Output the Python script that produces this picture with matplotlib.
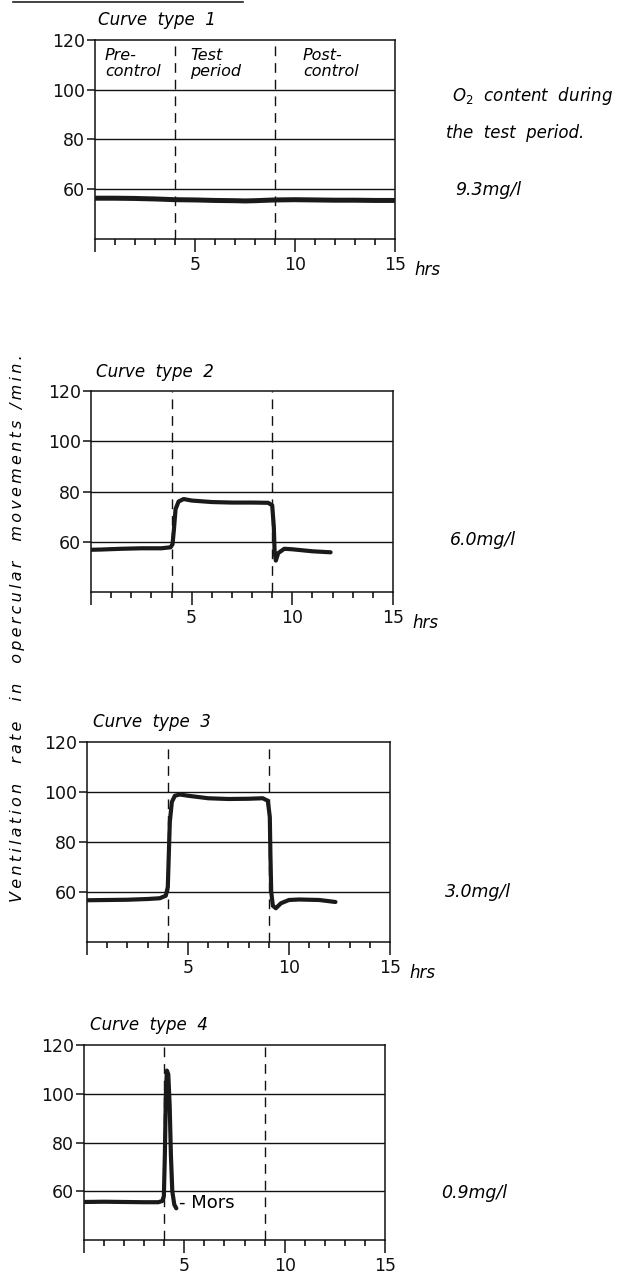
import matplotlib
matplotlib.use("Agg")
import matplotlib.pyplot as plt
from matplotlib.ticker import FixedLocator, MultipleLocator

# ---------------- data ----------------
t1 = [0, 1, 2, 3, 4, 5, 6, 7, 7.5, 8, 9, 10, 11, 12, 13, 14, 15]
v1 = [56.4, 56.4, 56.3, 56.1, 55.8, 55.7, 55.5, 55.4, 55.3, 55.4, 55.7, 55.8, 55.7, 55.6, 55.6, 55.5, 55.5]

t2 = [0, 0.5, 1.5, 2.5, 3.5, 3.95, 4.05, 4.12, 4.2, 4.35, 4.6, 5.0, 6, 7, 8, 8.8,
      9.0, 9.08, 9.12, 9.18, 9.3, 9.6, 10, 11, 11.9]
v2 = [56.8, 56.9, 57.2, 57.4, 57.4, 57.8, 59, 65, 73, 76, 77, 76.4, 75.8, 75.6, 75.6, 75.5,
      74.5, 66, 56, 52.5, 55.5, 57.2, 57, 56.2, 55.8]

t3 = [0, 1, 2, 3, 3.6, 3.9, 4.0, 4.05, 4.1, 4.2, 4.35, 4.6, 5.0, 6, 7, 8, 8.7,
      8.95, 9.05, 9.08, 9.12, 9.2, 9.35, 9.6, 10, 10.5, 11.5, 12.3]
v3 = [56.7, 56.8, 56.9, 57.2, 57.5, 58.5, 62, 75, 88, 96, 98.5, 99, 98.5, 97.5, 97.2, 97.3, 97.5,
      96.5, 90, 75, 60, 54.5, 53.5, 55.5, 56.8, 57, 56.8, 56]

t4 = [0, 1, 2, 3, 3.7, 3.9, 3.98, 4.03, 4.08, 4.13, 4.2, 4.27, 4.33, 4.4, 4.5, 4.6]
v4 = [55.6, 55.7, 55.6, 55.5, 55.5, 56.0, 58, 75, 100, 109.5, 108, 95, 75, 60, 54.5, 53]

series_t = [t1, t2, t3, t4]
series_v = [v1, v2, v3, v4]
titles = ["Curve  type  1", "Curve  type  2", "Curve  type  3", "Curve  type  4"]
o2_labels = ["9.3mg/l", "6.0mg/l", "3.0mg/l", "0.9mg/l"]
period_bounds = [4, 9]
y_ticks = [60, 80, 100, 120]
x_major = [0, 5, 10, 15]
x_labels = ["", "5", "10", "15"]
phase_labels = ["Pre-\ncontrol", "Test\nperiod", "Post-\ncontrol"]
phase_x = [0.5, 4.75, 10.4]

# ---------------- layout (pixels) ----------------
W, H = 621, 1273
fig = plt.figure(figsize=(W / 100, H / 100), dpi=100)
fig.patch.set_facecolor("white")


def fx(x):
    return x / W


def fy(y):
    return 1 - y / H


def spaced(s, sep="\u2009"):
    return sep.join(list(s))


# left, right, top, bottom in pixels
boxes = [(95, 395, 40, 239), (91, 393, 391, 592), (87, 390, 742, 942), (84, 385, 1045, 1240)]
title_pos = [(98, 20), (96, 372), (93, 722), (90, 1025)]
o2_pos = [(455, 190), (450, 540), (445, 892), (441, 1193)]
curve_lw = [3.6, 3.0, 3.0, 3.0]

ital = dict(fontstyle="italic", family="DejaVu Sans")

for i in range(4):
    l, r, t, b = boxes[i]
    ax = fig.add_axes([fx(l), fy(b), (r - l) / W, (b - t) / H])
    ax.set_xlim(0, 15)
    ax.set_ylim(40, 120)
    for s in ax.spines.values():
        s.set_linewidth(1.1)
        s.set_color("#111111")
    for yv in [60, 80, 100]:
        ax.axhline(yv, color="#111111", lw=1.0, zorder=1)
    for xv in period_bounds:
        ax.axvline(xv, color="#111111", lw=1.0, dashes=(7, 5), zorder=1)
    ax.plot(series_t[i], series_v[i], color="#1a1a1a", lw=curve_lw[i],
            solid_joinstyle="round", solid_capstyle="round", zorder=3)

    ax.yaxis.set_major_locator(FixedLocator(y_ticks))
    ax.set_yticklabels([str(v) for v in y_ticks])
    ax.xaxis.set_major_locator(FixedLocator(x_major))
    ax.set_xticklabels(x_labels)
    ax.xaxis.set_minor_locator(MultipleLocator(1))
    ax.tick_params(axis="y", direction="out", length=6, width=1.1, labelsize=12.5, pad=1, colors="#111111")
    ax.tick_params(axis="x", which="major", direction="out", length=9, width=1.1, labelsize=12.5, pad=3,
                   colors="#111111")
    ax.tick_params(axis="x", which="minor", direction="out", length=4.5, width=1.1)

    if i < 3:
        ax.text(15.95, 31.3, "hrs", ha="left", va="top",
                fontsize=12, fontstyle="italic", clip_on=False)

    tx, ty = title_pos[i]
    fig.text(fx(tx), fy(ty), titles[i], ha="left", va="center", fontsize=12, **ital)
    ox, oy = o2_pos[i]
    fig.text(fx(ox), fy(oy), o2_labels[i], ha="left", va="center", fontsize=12.5, **ital)

    if i == 0:
        for lab, px in zip(phase_labels, phase_x):
            ax.text(px, 116.8, lab, ha="left", va="top", fontsize=11.5, linespacing=1.05, **ital)
    if i == 3:
        ax.text(4.75, 55, "- Mors", ha="left", va="center", fontsize=13)

fig.text(fx(452), fy(96), r"O$_2$  content  during", ha="left", va="center", fontsize=12, **ital)
fig.text(fx(446), fy(133), "the  test  period.", ha="left", va="center", fontsize=12, **ital)

fig.text(fx(18), fy(628), spaced("Ventilation  rate  in  opercular  movements /min."), rotation=90,
         ha="center", va="center", fontsize=11.5, **ital)

fig.add_artist(plt.Line2D([fx(13), fx(243)], [fy(2), fy(2)], color="#222222", lw=1.2))

fig.savefig("out.png", dpi=100, facecolor="white")
